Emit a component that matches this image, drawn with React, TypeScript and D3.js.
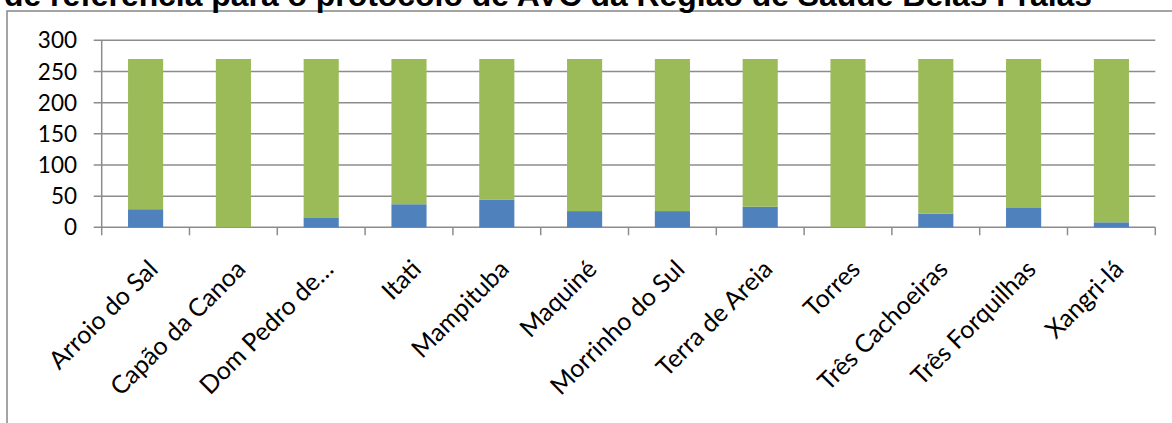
import React from "react";
import * as d3 from "d3";

const categories: string[] = [
  "Arroio do Sal",
  "Capão da Canoa",
  "Dom Pedro de…",
  "Itati",
  "Mampituba",
  "Maquiné",
  "Morrinho do Sul",
  "Terra de Areia",
  "Torres",
  "Três Cachoeiras",
  "Três Forquilhas",
  "Xangri-lá",
];
const blueValues: number[] = [29, 0, 16, 37, 44, 26, 26, 33, 0, 22, 32, 8];
const greenValues: number[] = [241, 270, 254, 233, 226, 244, 244, 237, 270, 248, 238, 262];
const yTicks: number[] = [0, 50, 100, 150, 200, 250, 300];
const titleText = "de referência para o protocolo de AVC da Região de Saúde Belas Praias";

const W = 1172;
const H = 423;

export default function App() {
  const x = d3
    .scaleBand<string>()
    .domain(categories)
    .range([101.7, 1155.3])
    .paddingInner(0.6)
    .paddingOuter(0.3);
  const step = x.step();
  const y = d3.scaleLinear().domain([0, 300]).range([227.3, 40.3]);

  const stackData = categories.map((c, i) => ({ cat: c, blue: blueValues[i], green: greenValues[i] }));
  const series = d3.stack<any>().keys(["blue", "green"])(stackData);
  const colors: Record<string, string> = { blue: "#4F81BD", green: "#9BBB59" };

  const gridColor = "#8c8c8c";
  const labelFont = "Lato, 'Liberation Sans', sans-serif";
  const x0 = x.range()[0];
  const x1 = x.range()[1];

  return (
    <svg
      width={W}
      height={H}
      style={{ position: "absolute", left: 0, top: 0, background: "#fff" }}
      xmlns="http://www.w3.org/2000/svg"
    >
      <rect x={0} y={0} width={W} height={H} fill="#fff" />
      {/* chart frame (cut off at right and bottom) */}
      <rect x={7} y={11} width={W + 50} height={H + 50} fill="none" stroke="#868686" strokeWidth={1.5} />
      {/* title (partially clipped at top, as in the reference) */}
      <text
        x={548}
        y={6}
        textAnchor="middle"
        fontFamily="'Liberation Sans', Arial, sans-serif"
        fontWeight="bold"
        fontSize={31.9}
        fill="#000"
      >
        {titleText}
      </text>
      {/* gridlines */}
      {yTicks.map((t) => (
        <line
          key={"g" + t}
          x1={x0 - 8}
          x2={x1}
          y1={y(t)}
          y2={y(t)}
          stroke={gridColor}
          strokeWidth={1.5}
        />
      ))}
      {/* y axis line */}
      <line x1={x0} x2={x0} y1={y(300)} y2={y(0)} stroke={gridColor} strokeWidth={1.5} />
      {/* category ticks */}
      {d3.range(categories.length + 1).map((i) => (
        <line
          key={"t" + i}
          x1={x0 + i * step}
          x2={x0 + i * step}
          y1={y(0)}
          y2={y(0) + 8}
          stroke={gridColor}
          strokeWidth={1.5}
        />
      ))}
      {/* y tick labels */}
      {yTicks.map((t) => (
        <text
          key={"yl" + t}
          x={77}
          y={y(t)}
          dy="0.36em"
          textAnchor="end"
          fontFamily={labelFont}
          fontSize={22.5}
          fill="#000"
        >
          {t}
        </text>
      ))}
      {/* bars */}
      {series.map((s) => (
        <g key={s.key} fill={colors[s.key]}>
          {s.map((d: any, i: number) => {
            const h = y(d[0]) - y(d[1]);
            if (h <= 0) return null;
            return (
              <rect
                key={i}
                x={x(categories[i])}
                y={y(d[1])}
                width={x.bandwidth()}
                height={h}
              />
            );
          })}
        </g>
      ))}
      {/* category labels */}
      {categories.map((c) => {
        const cx = (x(c) as number) + x.bandwidth() / 2;
        const px = cx + 1;
        const py = 258;
        return (
          <text
            key={"cl" + c}
            transform={`translate(${px},${py}) rotate(-45)`}
            dy="0.72em"
            textAnchor="end"
            fontFamily={labelFont}
            fontSize={25}
            fill="#000"
          >
            {c}
          </text>
        );
      })}
    </svg>
  );
}
